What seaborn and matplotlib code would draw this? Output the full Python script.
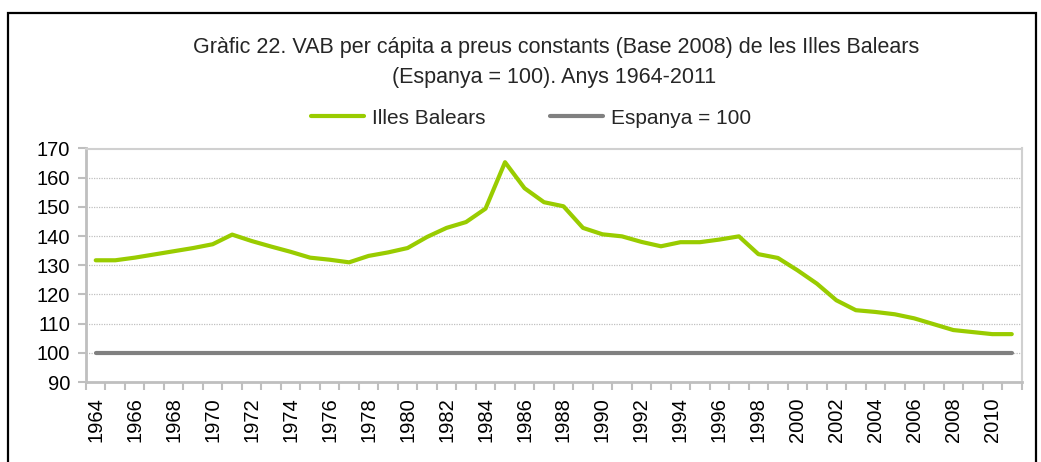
import matplotlib
matplotlib.use("Agg")
import matplotlib.pyplot as plt
import seaborn as sns
import pandas as pd
import numpy as np
from matplotlib.patches import Rectangle
from matplotlib.ticker import FixedLocator

years = list(range(1964, 2012))
balears = [131.7, 131.7, 132.6, 133.7, 134.8, 135.9, 137.2, 140.5, 138.3, 136.4,
           134.6, 132.6, 131.9, 131.0, 133.2, 134.4, 135.9, 139.7, 142.8, 144.8,
           149.4, 165.3, 156.4, 151.6, 150.2, 142.8, 140.6, 139.9, 138.0, 136.5,
           137.9, 137.9, 138.8, 139.9, 133.8, 132.5, 128.3, 123.7, 118.0, 114.6,
           114.0, 113.2, 111.8, 109.8, 107.8, 107.1, 106.4, 106.4]
espanya = [100] * len(years)
yticks = [90, 100, 110, 120, 130, 140, 150, 160, 170]
xtick_years = list(range(1964, 2011, 2))

title_line1 = "Gràfic 22. VAB per cápita a preus constants (Base 2008) de les Illes Balears"
title_line2 = "(Espanya = 100). Anys 1964-2011"
name_bal = "Illes Balears"
name_esp = "Espanya = 100"

df = pd.DataFrame({"year": years * 2,
                   "value": balears + espanya,
                   "serie": [name_bal] * len(years) + [name_esp] * len(years)})

sns.set_theme(style="white")
plt.rcParams['font.family'] = ['Liberation Sans', 'DejaVu Sans']

W, H = 1041, 462
fig = plt.figure(figsize=(W / 100, H / 100), dpi=100)
ax = fig.add_axes([86 / W, (H - 382) / H, (1021.5 - 86) / W, (382 - 148.5) / H])

sns.lineplot(data=df, x="year", y="value", hue="serie",
             palette={name_bal: "#99CC00", name_esp: "#808080"},
             linewidth=3, ax=ax, legend=False)

ax.set_xlim(1963.5, 2011.5)
ax.set_ylim(90, 170)
ax.set_yticks(yticks)
ax.set_yticklabels([str(v) for v in yticks], fontsize=14.5, color="black")
ax.set_xticks(xtick_years)
ax.set_xticklabels([str(y) for y in xtick_years], rotation=90, fontsize=14.5, color="black")
ax.xaxis.set_minor_locator(FixedLocator(np.arange(1963.5, 2012, 1.0)))
ax.tick_params(axis="x", which="major", length=0, pad=11)
ax.tick_params(axis="x", which="minor", length=6, width=1.5, color="#BFBFBF", direction="out", bottom=True)
ax.tick_params(axis="y", which="major", length=6, width=1.5, color="#BFBFBF", direction="out", left=True, pad=5.5)
ax.set_xlabel("")
ax.set_ylabel("")

ax.yaxis.grid(True, linestyle=(0, (1, 1)), color="#C0C0C0", linewidth=0.9)
ax.xaxis.grid(False)
ax.set_axisbelow(True)
for side in ["left", "bottom"]:
    ax.spines[side].set_color("#BFBFBF")
    ax.spines[side].set_linewidth(2)
for side in ["top", "right"]:
    ax.spines[side].set_color("#D0D0D0")
    ax.spines[side].set_linewidth(1.5)

fig.text(556 / W, (H - 53) / H, title_line1, ha="center", va="baseline", fontsize=15.5)
fig.text(554 / W, (H - 83) / H, title_line2, ha="center", va="baseline", fontsize=15.5)

handles = [plt.Line2D([], [], color="#99CC00", linewidth=3),
           plt.Line2D([], [], color="#808080", linewidth=3)]
fig.legend(handles, [name_bal, name_esp], loc="center", ncol=2,
           bbox_to_anchor=(531 / W, (H - 118) / H), frameon=False,
           fontsize=15, handlelength=2.55, handletextpad=0.38, columnspacing=3.1,
           borderpad=0, borderaxespad=0)

fig.patches.append(Rectangle((8 / W, -0.1), (1036 - 8) / W, (H - 13) / H + 0.1,
                             transform=fig.transFigure, fill=False,
                             edgecolor="black", linewidth=1.6))

fig.savefig("out.png", dpi=100)
